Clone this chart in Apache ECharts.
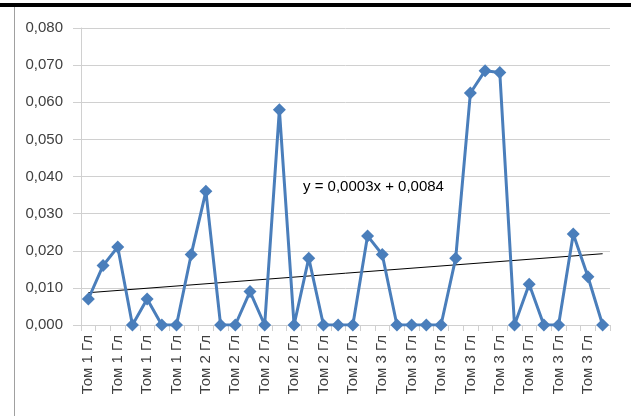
<!DOCTYPE html>
<html>
<head>
<meta charset="utf-8">
<script src="https://cdn.jsdelivr.net/npm/echarts@6/dist/echarts.min.js"></script>
<style>
html,body{margin:0;padding:0;background:#fff;}
#wrap{position:relative;width:631px;height:416px;overflow:hidden;}
#topbar{position:absolute;left:0;top:3px;width:631px;height:4px;background:#000;}
#leftbar{position:absolute;left:14px;top:7px;width:1px;height:409px;background:#a0a0a0;}
#chart{position:absolute;left:0;top:0;width:631px;height:416px;}
</style>
</head>
<body>
<div id="wrap">
<div id="chart"></div>
<div id="topbar"></div>
<div id="leftbar"></div>
</div>
<script>
const categories = [
  "Том 1 Гл","Том 1 Гл","Том 1 Гл","Том 1 Гл","Том 1 Гл","Том 1 Гл","Том 1 Гл","Том 1 Гл",
  "Том 2 Гл","Том 2 Гл","Том 2 Гл","Том 2 Гл","Том 2 Гл","Том 2 Гл","Том 2 Гл","Том 2 Гл",
  "Том 2 Гл","Том 2 Гл","Том 2 Гл","Том 2 Гл",
  "Том 3 Гл","Том 3 Гл","Том 3 Гл","Том 3 Гл","Том 3 Гл","Том 3 Гл","Том 3 Гл","Том 3 Гл",
  "Том 3 Гл","Том 3 Гл","Том 3 Гл","Том 3 Гл","Том 3 Гл","Том 3 Гл","Том 3 Гл","Том 3 Гл"
];
const values = [
  0.007, 0.016, 0.021, 0.000, 0.007, 0.000, 0.000, 0.019,
  0.036, 0.000, 0.000, 0.009, 0.000, 0.058, 0.000, 0.018,
  0.000, 0.000, 0.000, 0.024,
  0.019, 0.000, 0.000, 0.000, 0.000, 0.018, 0.0625, 0.0685,
  0.068, 0.000, 0.011, 0.000, 0.000, 0.0245, 0.013, 0.000
];
// trend line end points (first and last category)
const trendStart = 0.0087;
const trendEnd = 0.0192;
const trendLabel = "y = 0,0003x + 0,0084";
const yTicks = { min: 0, max: 0.08, interval: 0.01 };

const trendData = values.map((v, i) =>
  i === 0 ? trendStart : (i === values.length - 1 ? trendEnd : null));

const fmt = v => v.toFixed(3).replace('.', ',');
const chart = echarts.init(document.getElementById('chart'));
chart.setOption({
  animation: false,
  grid: { left: 81, right: 21, top: 28, bottom: 91 },
  xAxis: {
    type: 'category',
    data: categories,
    boundaryGap: true,
    axisLine: { lineStyle: { color: '#d0d0d0', width: 1 } },
    axisTick: { show: true, interval: 0, length: 6, lineStyle: { color: '#d0d0d0' } },
    axisLabel: {
      interval: 1, rotate: 90, color: '#404040',
      fontFamily: 'Liberation Sans', fontSize: 15, margin: 10
    },
    splitLine: { show: false }
  },
  yAxis: {
    type: 'value',
    min: yTicks.min, max: yTicks.max, interval: yTicks.interval,
    axisLine: { show: true, lineStyle: { color: '#d0d0d0' } },
    axisTick: { show: true, length: 8, lineStyle: { color: '#d0d0d0' } },
    axisLabel: {
      formatter: fmt, color: '#404040',
      fontFamily: 'Liberation Sans', fontSize: 15, margin: 18
    },
    splitLine: { lineStyle: { color: '#d0d0d0', width: 1 } }
  },
  series: [
    {
      type: 'line',
      data: values,
      symbol: 'diamond',
      symbolSize: 13,
      showAllSymbol: true,
      lineStyle: { color: '#4a7ebb', width: 3 },
      itemStyle: { color: '#4a7ebb' },
      z: 3
    },
    {
      type: 'line',
      data: trendData,
      connectNulls: true,
      symbol: 'none',
      lineStyle: { color: '#000', width: 1 },
      z: 2,
      silent: true
    }
  ],
  graphic: [{
    type: 'text',
    left: 303, top: 179,
    style: { text: trendLabel, fill: '#000', font: '15px "Liberation Sans"' }
  }]
});
</script>
</body>
</html>
